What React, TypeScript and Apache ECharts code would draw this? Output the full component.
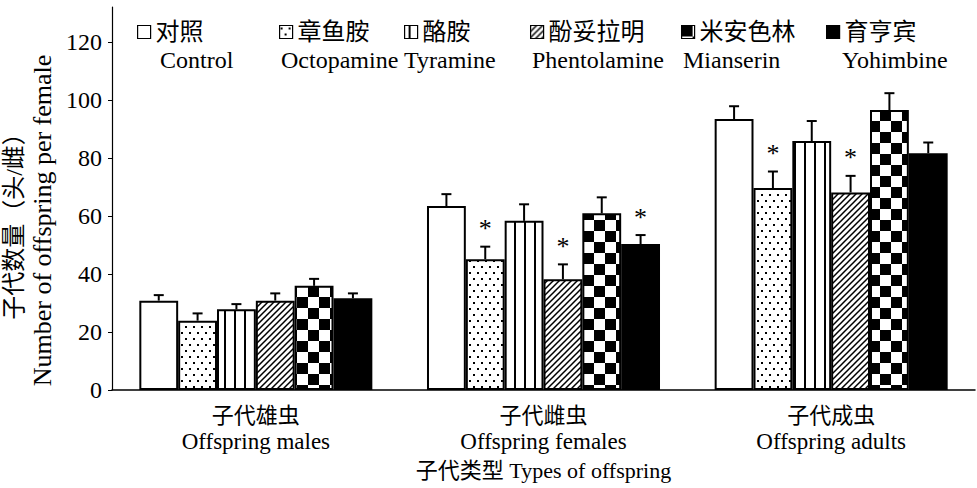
import React, { useEffect, useRef } from 'react';
import * as echarts from 'echarts';

const treatZh = ['对照', '章鱼胺', '酪胺', '酚妥拉明', '米安色林', '育亨宾'];
const treatEn = ['Control', 'Octopamine', 'Tyramine', 'Phentolamine', 'Mianserin', 'Yohimbine'];
const catZh = ['子代雄虫', '子代雌虫', '子代成虫'];
const catEn = ['Offspring males', 'Offspring females', 'Offspring adults'];
const yTicks = [0, 20, 40, 60, 80, 100, 120];

const controlMean = [30.8, 63.4, 93.4];
const controlErr = [1.9, 4.1, 4.4];
const octopamineMean = [23.9, 45.1, 69.6];
const octopamineErr = [2.5, 4.3, 5.7];
const tyramineMean = [27.8, 58.3, 85.8];
const tyramineErr = [1.8, 5.7, 6.9];
const phentolamineMean = [30.8, 38.2, 68.1];
const phentolamineErr = [2.5, 5.1, 5.7];
const mianserinMean = [35.9, 60.9, 96.5];
const mianserinErr = [2.4, 5.5, 5.8];
const yohimbineMean = [31.6, 50.3, 81.6];
const yohimbineErr = [1.7, 3.1, 3.7];

const controlSig = [0, 0, 0];
const octopamineSig = [0, 1, 1];
const tyramineSig = [0, 0, 0];
const phentolamineSig = [0, 1, 1];
const mianserinSig = [0, 0, 0];
const yohimbineSig = [0, 1, 0];

const means = [controlMean, octopamineMean, tyramineMean, phentolamineMean, mianserinMean, yohimbineMean];
const errs = [controlErr, octopamineErr, tyramineErr, phentolamineErr, mianserinErr, yohimbineErr];
const sigs = [controlSig, octopamineSig, tyramineSig, phentolamineSig, mianserinSig, yohimbineSig];

const FONT = "'Liberation Serif', 'Times New Roman', 'Noto Sans CJK SC', serif";
const CAT_GAP = 0.19;

function makeTile(w: number, h: number, draw: (c: CanvasRenderingContext2D) => void) {
  const cv = document.createElement('canvas');
  cv.width = w;
  cv.height = h;
  const c = cv.getContext('2d')!;
  c.fillStyle = '#fff';
  c.fillRect(0, 0, w, h);
  c.fillStyle = '#000';
  c.strokeStyle = '#000';
  draw(c);
  return { image: cv.toDataURL(), repeat: 'repeat', imageWidth: w, imageHeight: h };
}

export default function App() {
  const ref = useRef<HTMLDivElement>(null);
  useEffect(() => {
    document.body.style.margin = '0';
    const chart = echarts.init(ref.current!, null, { renderer: 'svg' });

    const dots = makeTile(8, 12, (c) => {
      c.fillRect(1, 2, 2, 2);
      c.fillRect(5, 8, 2, 2);
    });
    const vlines = makeTile(10, 10, (c) => {
      c.fillRect(4, 0, 2, 10);
    });
    const diag = makeTile(6, 6, (c) => {
      c.lineWidth = 1.5;
      c.beginPath();
      c.moveTo(-1, 7); c.lineTo(7, -1);
      c.moveTo(-1, 1); c.lineTo(1, -1);
      c.moveTo(5, 7); c.lineTo(7, 5);
      c.stroke();
    });
    const checker = makeTile(22, 22, (c) => {
      c.fillRect(0, 0, 11, 11);
      c.fillRect(11, 11, 11, 11);
    });
    const fills: any[] = ['#fff', dots, vlines, diag, checker, '#000'];

    const barSeries = treatZh.map((name, i) => ({
      name,
      type: 'bar',
      data: means[i],
      barGap: '0%',
      barCategoryGap: (CAT_GAP * 100) + '%',
      itemStyle: { color: fills[i], borderColor: '#000', borderWidth: 2 },
      z: 2,
    }));

    const errData: number[][] = [];
    means.forEach((m, i) => m.forEach((v, j) => errData.push([j, i, v, errs[i][j], sigs[i][j]])));

    const errSeries = {
      type: 'custom',
      name: 'err',
      data: errData,
      encode: { x: 0, y: 2 },
      z: 5,
      renderItem: (params: any, api: any) => {
        const ci = api.value(0);
        const si = api.value(1);
        const mean = api.value(2);
        const err = api.value(3);
        const sig = api.value(4);
        const center = api.coord([ci, mean]);
        const band = api.size([1, 0])[0];
        const groupW = band * (1 - CAT_GAP);
        const bw = groupW / treatZh.length;
        const x = center[0] - groupW / 2 + bw * (si + 0.5);
        const yTop = center[1];
        const yErr = api.coord([ci, mean + err])[1];
        const children: any[] = [
          { type: 'line', shape: { x1: x, y1: yTop, x2: x, y2: yErr }, style: { stroke: '#000', lineWidth: 2 } },
          { type: 'line', shape: { x1: x - 5, y1: yErr, x2: x + 5, y2: yErr }, style: { stroke: '#000', lineWidth: 2 } },
        ];
        if (sig) {
          children.push({
            type: 'text',
            x,
            y: yErr - 18,
            style: { text: '*', fontSize: 26, fontFamily: FONT, fill: '#000', align: 'center', verticalAlign: 'middle' },
          });
        }
        return { type: 'group', children };
      },
    };

    const boxX = [137, 279, 404, 530, 681, 826];
    const enX = [160, 281, 404, 532, 683, 842];

    const option: any = {
      animation: false,
      backgroundColor: '#fff',
      textStyle: { fontFamily: FONT, color: '#000' },
      grid: { left: 112, right: 2, top: 7, bottom: 98, containLabel: false, outerBoundsMode: 'none' },
      legend: treatZh.map((n, i) => ({
        data: [n],
        left: boxX[i],
        top: 20,
        padding: 0,
        icon: 'rect',
        itemWidth: 13,
        itemHeight: 13,
        selectedMode: false,
        itemStyle: { borderColor: '#000', borderWidth: 1.2 },
        textStyle: { fontSize: 24, fontFamily: FONT, color: '#000' },
      })),
      graphic: treatEn.map((t, i) => ({
        type: 'text',
        x: enX[i],
        y: 60,
        style: { text: t, fontSize: 24, fontFamily: FONT, fill: '#000', verticalAlign: 'middle' },
      })),
      xAxis: {
        type: 'category',
        data: catZh,
        axisLine: { lineStyle: { color: '#000', width: 1.5 } },
        axisTick: { show: false },
        axisLabel: {
          margin: 12,
          color: '#000',
          formatter: (v: string, i: number) => `{zh|${catZh[i]}}\n{en|${catEn[i]}}`,
          rich: {
            zh: { fontSize: 22, fontFamily: FONT, color: '#000', lineHeight: 26 },
            en: { fontSize: 23, fontFamily: FONT, color: '#000', lineHeight: 26 },
          },
        },
        name: '子代类型 Types of offspring',
        nameLocation: 'middle',
        nameGap: 69,
        nameTextStyle: { fontSize: 22, fontFamily: FONT, color: '#000' },
      },
      yAxis: {
        type: 'value',
        min: 0,
        max: 132,
        interval: 20,
        splitLine: { show: false },
        axisLine: { show: true, lineStyle: { color: '#000', width: 1.2 } },
        axisTick: { show: true, inside: false, length: 4, lineStyle: { color: '#000' }, customValues: yTicks },
        axisLabel: { color: '#000', fontSize: 24, fontFamily: FONT, margin: 10, customValues: yTicks },
        name: '{zh|子代数量（头/雌）}\n{en|Number of offspring per female}',
        nameLocation: 'middle',
        nameRotate: 90,
        nameGap: 45,
        nameTextStyle: {
          padding: [0, 44, 0, 0],
          rich: {
            zh: { fontSize: 24, fontFamily: FONT, color: '#000', lineHeight: 28 },
            en: { fontSize: 26, fontFamily: FONT, color: '#000', lineHeight: 28 },
          },
        },
      },
      series: [...barSeries, errSeries],
    };
    chart.setOption(option);
    return () => chart.dispose();
  }, []);
  return <div ref={ref} style={{ width: 977, height: 488, position: 'absolute', left: 0, top: 0 }} />;
}
